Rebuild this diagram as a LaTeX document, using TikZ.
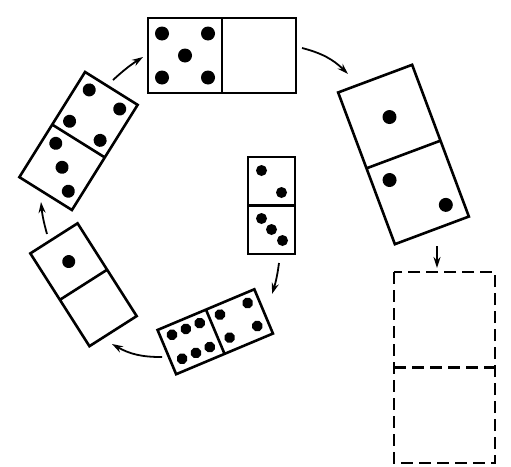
\documentclass[tikz,border=0pt]{standalone}
\usetikzlibrary{arrows.meta}
\begin{document}
\begin{tikzpicture}[x=1pt,y=-1pt,>={Stealth[length=11pt,width=7pt]},domino/.style={line width=2.6pt},move/.style={->,line width=1.8pt}]
	\useasboundingbox (0,0) rectangle (511,466);
	\begin{scope}[shift={(271.5,205.5)},rotate=-90,y=1pt]
		\draw[domino] (-48.5,-23.5) rectangle (48.5,23.5) (0,-23.5)--(0,23.5);
		\fill (-35,-10) circle(5.5) (-13,10) circle(5.5) (13,-10) circle(5.5) (24,0) circle(5.5) (35,11) circle(5.5);
	\end{scope}
	\begin{scope}[shift={(215.25,331.75)},rotate=22.8,y=1pt]
		\draw[domino] (-52.5,-24) rectangle (52.5,24) (0,-24)--(0,24);
		\fill (-41,14) circle(5.5) (-26,14) circle(5.5) (-11,14) circle(5.5) (-41,-12) circle(5.5) (-26,-12) circle(5.5) (-11,-12) circle(5.5);
		\fill (11,14) circle(5.5) (41,14) circle(5.5) (11,-11) circle(5.5) (41,-11) circle(5.5);
	\end{scope}
	\begin{scope}[shift={(83.5,284.75)},rotate=-57.5,y=1pt]
		\draw[domino] (-55,-28) rectangle (55,28) (0,-28)--(0,28);
		\fill (-27.5,0) circle(6.5);
	\end{scope}
	\begin{scope}[shift={(78.5,141)},rotate=58,y=1pt]
		\draw[domino] (-62,-31) rectangle (62,31) (0,-31)--(0,31);
		\fill (-14,18) circle(6.5) (-31,0) circle(6.5) (-48,-18) circle(6.5);
		\fill (12,18) circle(6.5) (49,18) circle(6.5) (12,-18) circle(6.5) (49,-18) circle(6.5);
	\end{scope}
	\begin{scope}[shift={(222,55.5)},y=1pt]
		\draw[domino] (-74,-37.5) rectangle (74,37.5) (0,-37.5)--(0,37.5);
		\fill (-60,22) circle(7) (-14,22) circle(7) (-37,0) circle(7) (-60,-22) circle(7) (-14,-22) circle(7);
	\end{scope}
	\begin{scope}[shift={(403.5,154.5)},rotate=-69.5,y=1pt]
		\draw[domino] (-81,-39.5) rectangle (81,39.5) (0,-39.5)--(0,39.5);
		\fill (-40,0) circle(7) (19,-22) circle(7) (62,22) circle(7);
	\end{scope}
	\draw[domino,dash pattern=on 12pt off 6pt] (394,272) rectangle (495,463) (394,367.5)--(495,367.5);
	\coordinate (c-out) at (279,263);
	\coordinate (b-in) at (272,294);
	\coordinate (b-out) at (162,357);
	\coordinate (bl-in) at (112,344);
	\coordinate (bl-out) at (47,234);
	\coordinate (tl-in) at (41,202);
	\coordinate (tl-out) at (113,80);
	\coordinate (t-in) at (143,57);
	\coordinate (t-out) at (302,48);
	\coordinate (r-in) at (348,74);
	\coordinate (r-out) at (437,246);
	\coordinate (d-in) at (437,268);
	\draw[move] (c-out) to[bend left=5] (b-in);
	\draw[move] (b-out) to[bend left=15] (bl-in);
	\draw[move] (bl-out) to[bend left=5] (tl-in);
	\draw[move] (tl-out) to[bend left=5] (t-in);
	\draw[move] (t-out) to[bend left=15] (r-in);
	\draw[move] (r-out) -- (d-in);
\end{tikzpicture}
\end{document}
